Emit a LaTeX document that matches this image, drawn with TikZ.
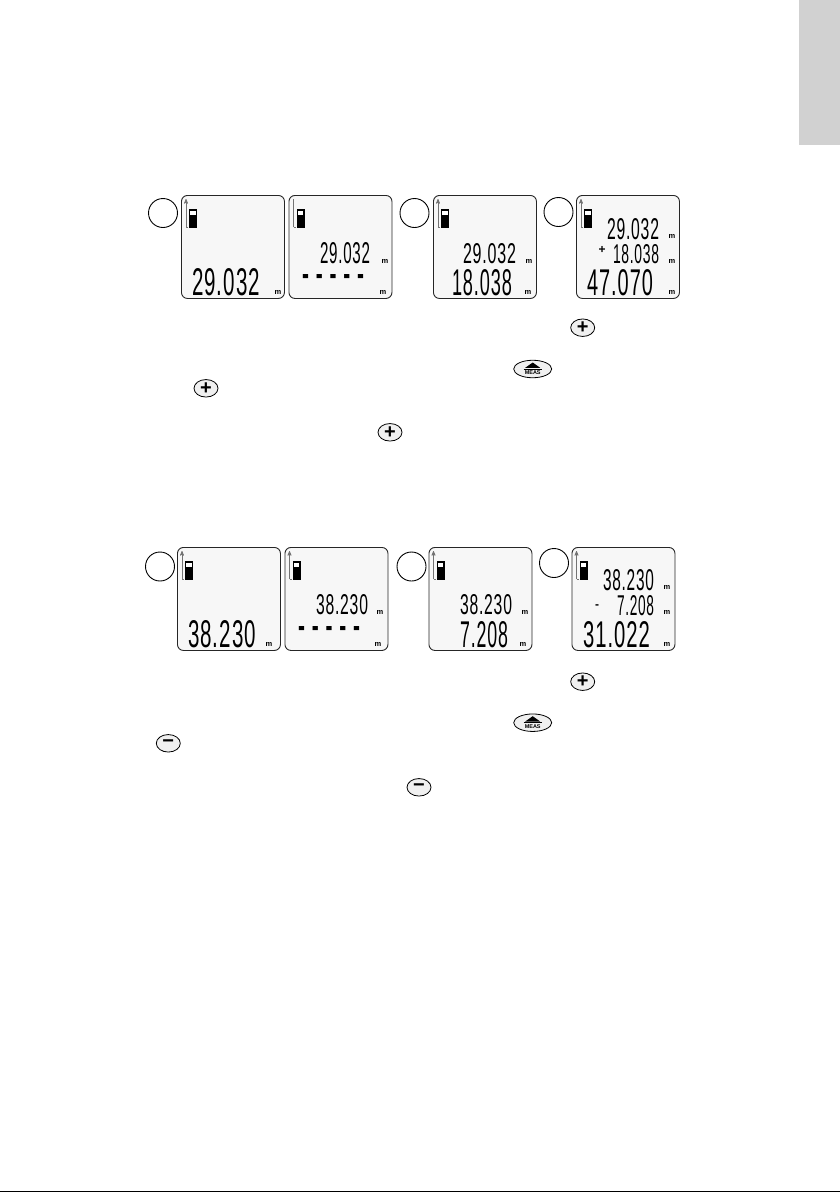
\documentclass[tikz,border=0pt]{standalone}
\usepackage{fontspec}
\usepackage{graphicx}
\setmainfont{Liberation Sans}
\newfontfamily\lcdfont[LetterSpace=5]{Liberation Sans}
\usetikzlibrary{arrows,positioning,shapes.geometric}

% one display: frame, battery and range line
\newcommand{\lcdpanel}[4]{
	\node[lcdbox,anchor=north west] (#1) at (#2,#3) {};
	\draw[gauge,#4] (#2+5,#3+32) -- (#2+5,#3+4);
	\draw[gauge] (#2+5,#3+32) -- (#2+7,#3+32);
	\fill[black] (#2+8,#3+14) rectangle (#2+16,#3+33);
	\fill[white] (#2+9.2,#3+16) rectangle (#2+14.8,#3+19.5);
}
% digits of a display, squeezed to the given box
\newcommand{\lcdnum}[6]{
	\node[lcdtext] (#1) at (#2,#3) {\resizebox{#4pt}{#5pt}{\lcdfont #6}};
}

\begin{document}
\begin{tikzpicture}[x=1pt,y=-1pt,>=stealth']
	\tikzstyle{lcdbox}=[draw=black!85,fill=black!3,rounded corners=6pt,line width=0.9pt,minimum width=103pt,minimum height=103pt,inner sep=0pt]
	\tikzstyle{lcdtext}=[anchor=north west,inner sep=0pt,outer sep=0pt]
	\tikzstyle{gauge}=[draw=black!55,line width=0.7pt]
	\tikzstyle{badge}=[draw=black,circle,line width=0.9pt,minimum size=29pt,inner sep=0pt]
	\tikzstyle{unit}=[inner sep=0pt,font=\bfseries\fontsize{7.5}{8}\selectfont]
	\tikzstyle{sign}=[inner sep=0pt,font=\bfseries\fontsize{12}{12}\selectfont]
	\tikzstyle{key}=[draw=black,ellipse,fill=black!6,line width=0.8pt,minimum width=24pt,minimum height=17.5pt,inner sep=0pt,font=\bfseries\fontsize{20}{20}\selectfont]
	\tikzstyle{meas}=[key,minimum width=38pt]

	\useasboundingbox (0,0) rectangle (840,1192);
	\fill[black!18] (799,0) rectangle (840,145);
	\fill[black] (0,1191) rectangle (840,1192);

	% first row
	\lcdpanel{A}{181}{195}{->}
	\lcdpanel{B}{288.5}{195}{-}
	\lcdpanel{C}{433}{195}{->}
	\lcdpanel{D}{576}{195}{->}
	\node[badge] (a) at (163,213) {};
	\node[badge] (c) at (414.5,213) {};
	\node[badge] (d) at (558.5,212) {};

	\lcdnum{A1}{192}{268}{68}{27}{29.032}
	\node[unit] (Am) at (278,292) {m};
	\lcdnum{B1}{320}{242}{50}{21}{29.032}
	\node[unit] (Bm) at (385,261) {m};
	\lcdnum{B2}{302}{274}{62}{11}{\bfseries - - - - -}
	\node[unit] (Bn) at (383,292) {m};
	\lcdnum{C1}{463}{243}{53}{20}{29.032}
	\node[unit] (Cm) at (529,261) {m};
	\lcdnum{C2}{452}{269}{60}{26}{18.038}
	\node[unit] (Cn) at (528,292) {m};
	\lcdnum{D1}{607}{218}{52}{21}{29.032}
	\node[unit] (Dm) at (672,236) {m};
	\node[sign] (Dp) at (602,250) {+};
	\lcdnum{D2}{613}{244}{46}{19}{18.038}
	\node[unit] (Dn) at (672,261) {m};
	\lcdnum{D3}{587}{269}{66}{26}{47.070}
	\node[unit] (Do) at (672,292) {m};

	% keys under the first row
	\node[key] (k1) at (582.7,327.7) {+};
	\node[meas] (k2) at (532.7,369) {};
	\node[key] (k3) at (206,388.3) {+};
	\node[key] (k4) at (390,432.3) {+};

	% second row
	\lcdpanel{E}{177}{547}{->}
	\lcdpanel{F}{284.5}{547}{->}
	\lcdpanel{G}{428.5}{547}{->}
	\lcdpanel{H}{571.5}{547}{->}
	\node[badge] (e) at (160,566.5) {};
	\node[badge] (g) at (411.5,566.5) {};
	\node[badge] (h) at (554,563) {};

	\lcdnum{E1}{188}{620}{68}{27}{38.230}
	\node[unit] (Em) at (269,644) {m};
	\lcdnum{F1}{316}{594}{52}{20}{38.230}
	\node[unit] (Fm) at (380,612) {m};
	\lcdnum{F2}{298}{626}{62}{11}{\bfseries - - - - -}
	\node[unit] (Fn) at (378,644) {m};
	\lcdnum{G1}{460}{594}{52}{20}{38.230}
	\node[unit] (Gm) at (525,612) {m};
	\lcdnum{G2}{460}{621}{48}{26}{7.208}
	\node[unit] (Gn) at (523,644) {m};
	\lcdnum{H1}{603}{569}{51}{21}{38.230}
	\node[unit] (Hm) at (667,587.7) {m};
	\node[sign] (Hp) at (597,606.7) {-};
	\lcdnum{H2}{617}{595}{37}{20}{7.208}
	\node[unit] (Hn) at (667,612) {m};
	\lcdnum{H3}{583}{621}{67}{26}{31.022}
	\node[unit] (Ho) at (667,644) {m};

	% keys under the second row
	\node[key] (k5) at (582.7,681.7) {+};
	\node[meas] (k6) at (532.7,722.7) {};
	\node[key] (k7) at (168.3,743.3) {−};
	\node[key] (k8) at (419,787.3) {−};

	% the MEAS keys carry a triangle and a bar
	\foreach \k in {k2,k6} {
		\fill[black] ([xshift=-7.5pt,yshift=1.2pt]\k.center) -- ([xshift=7.5pt,yshift=1.2pt]\k.center) -- ([yshift=6.5pt]\k.center) -- cycle;
		\draw[black,line width=0.6pt] ([xshift=-9pt,yshift=0.2pt]\k.center) -- ([xshift=9pt,yshift=0.2pt]\k.center);
		\node[inner sep=0pt,font=\bfseries\fontsize{5.5}{6}\selectfont] (\k t) at ([yshift=-3.6pt]\k.center) {MEAS};
	}
\end{tikzpicture}
\end{document}
